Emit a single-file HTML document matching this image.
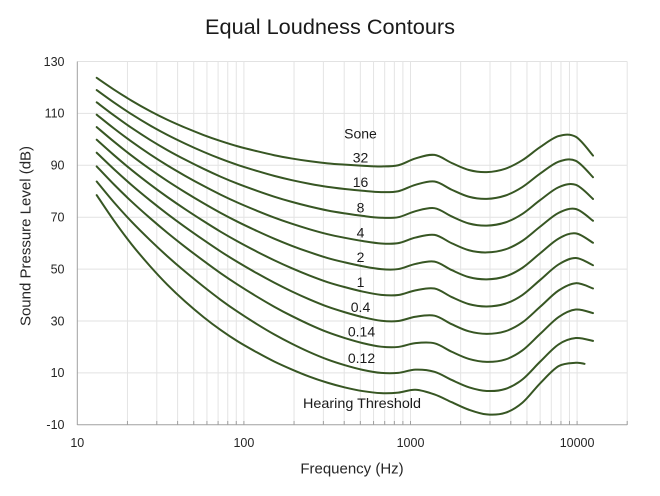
<!DOCTYPE html>
<html>
<head>
<meta charset="utf-8">
<style>
html,body{margin:0;padding:0;background:#fff;}
svg{display:block;}
text{font-family:"Liberation Sans",Arial,sans-serif;}
</style>
</head>
<body>
<svg id="chart" width="660" height="496" viewBox="0 0 660 496" xmlns="http://www.w3.org/2000/svg">
<rect x="0" y="0" width="660" height="496" fill="#ffffff"/>
<!-- title -->
<text x="330" y="34" text-anchor="middle" font-size="21.5" fill="#1a1a1a" textLength="250" lengthAdjust="spacingAndGlyphs">Equal Loudness Contours</text>

<!-- horizontal gridlines -->
<g stroke="#e2e2e2" stroke-width="1">
<line x1="77.3" y1="61.5" x2="627.2" y2="61.5"/>
<line x1="77.3" y1="113.4" x2="627.2" y2="113.4"/>
<line x1="77.3" y1="165.3" x2="627.2" y2="165.3"/>
<line x1="77.3" y1="217.2" x2="627.2" y2="217.2"/>
<line x1="77.3" y1="269.1" x2="627.2" y2="269.1"/>
<line x1="77.3" y1="321.0" x2="627.2" y2="321.0"/>
<line x1="77.3" y1="372.9" x2="627.2" y2="372.9"/>
</g>
<!-- vertical gridlines -->
<g stroke="#e4e4e4" stroke-width="1">
<line x1="127.45" y1="61.5" x2="127.45" y2="424.8"/>
<line x1="156.79" y1="61.5" x2="156.79" y2="424.8"/>
<line x1="177.6" y1="61.5" x2="177.6" y2="424.8"/>
<line x1="193.75" y1="61.5" x2="193.75" y2="424.8"/>
<line x1="206.94" y1="61.5" x2="206.94" y2="424.8"/>
<line x1="218.09" y1="61.5" x2="218.09" y2="424.8"/>
<line x1="227.75" y1="61.5" x2="227.75" y2="424.8"/>
<line x1="236.28" y1="61.5" x2="236.28" y2="424.8"/>
<line x1="243.9" y1="61.5" x2="243.9" y2="424.8"/>
<line x1="294.05" y1="61.5" x2="294.05" y2="424.8"/>
<line x1="323.39" y1="61.5" x2="323.39" y2="424.8"/>
<line x1="344.2" y1="61.5" x2="344.2" y2="424.8"/>
<line x1="360.35" y1="61.5" x2="360.35" y2="424.8"/>
<line x1="373.54" y1="61.5" x2="373.54" y2="424.8"/>
<line x1="384.69" y1="61.5" x2="384.69" y2="424.8"/>
<line x1="394.35" y1="61.5" x2="394.35" y2="424.8"/>
<line x1="402.88" y1="61.5" x2="402.88" y2="424.8"/>
<line x1="410.5" y1="61.5" x2="410.5" y2="424.8"/>
<line x1="460.65" y1="61.5" x2="460.65" y2="424.8"/>
<line x1="489.99" y1="61.5" x2="489.99" y2="424.8"/>
<line x1="510.8" y1="61.5" x2="510.8" y2="424.8"/>
<line x1="526.95" y1="61.5" x2="526.95" y2="424.8"/>
<line x1="540.14" y1="61.5" x2="540.14" y2="424.8"/>
<line x1="551.29" y1="61.5" x2="551.29" y2="424.8"/>
<line x1="560.95" y1="61.5" x2="560.95" y2="424.8"/>
<line x1="569.48" y1="61.5" x2="569.48" y2="424.8"/>
<line x1="577.1" y1="61.5" x2="577.1" y2="424.8"/>
<line x1="627.2" y1="61.5" x2="627.2" y2="424.8"/>
</g>
<!-- axes -->
<g stroke="#a0a0a0" stroke-width="1">
<line x1="77.3" y1="61.5" x2="77.3" y2="425"/>
<line x1="77.3" y1="424.8" x2="627.2" y2="424.8"/>
</g>
<!-- x ticks -->
<g stroke="#a0a0a0" stroke-width="1">
<line x1="127.45" y1="421" x2="127.45" y2="425"/>
<line x1="156.79" y1="421" x2="156.79" y2="425"/>
<line x1="177.6" y1="421" x2="177.6" y2="425"/>
<line x1="193.75" y1="421" x2="193.75" y2="425"/>
<line x1="206.94" y1="421" x2="206.94" y2="425"/>
<line x1="218.09" y1="421" x2="218.09" y2="425"/>
<line x1="227.75" y1="421" x2="227.75" y2="425"/>
<line x1="236.28" y1="421" x2="236.28" y2="425"/>
<line x1="243.9" y1="421" x2="243.9" y2="425"/>
<line x1="294.05" y1="421" x2="294.05" y2="425"/>
<line x1="323.39" y1="421" x2="323.39" y2="425"/>
<line x1="344.2" y1="421" x2="344.2" y2="425"/>
<line x1="360.35" y1="421" x2="360.35" y2="425"/>
<line x1="373.54" y1="421" x2="373.54" y2="425"/>
<line x1="384.69" y1="421" x2="384.69" y2="425"/>
<line x1="394.35" y1="421" x2="394.35" y2="425"/>
<line x1="402.88" y1="421" x2="402.88" y2="425"/>
<line x1="410.5" y1="421" x2="410.5" y2="425"/>
<line x1="460.65" y1="421" x2="460.65" y2="425"/>
<line x1="489.99" y1="421" x2="489.99" y2="425"/>
<line x1="510.8" y1="421" x2="510.8" y2="425"/>
<line x1="526.95" y1="421" x2="526.95" y2="425"/>
<line x1="540.14" y1="421" x2="540.14" y2="425"/>
<line x1="551.29" y1="421" x2="551.29" y2="425"/>
<line x1="560.95" y1="421" x2="560.95" y2="425"/>
<line x1="569.48" y1="421" x2="569.48" y2="425"/>
<line x1="577.1" y1="421" x2="577.1" y2="425"/>
<line x1="627.2" y1="421" x2="627.2" y2="425"/>
</g>

<!-- y tick labels -->
<g font-size="12.5" fill="#262626" text-anchor="end">
<text x="64.5" y="65.8">130</text>
<text x="64.5" y="117.7">110</text>
<text x="64.5" y="169.6">90</text>
<text x="64.5" y="221.5">70</text>
<text x="64.5" y="273.4">50</text>
<text x="64.5" y="325.3">30</text>
<text x="64.5" y="377.2">10</text>
<text x="64.5" y="429.1">-10</text>
</g>
<!-- x tick labels -->
<g font-size="12.5" fill="#262626" text-anchor="middle">
<text x="77.3" y="447">10</text>
<text x="243.9" y="447">100</text>
<text x="410.5" y="447">1000</text>
<text x="577.1" y="447">10000</text>
</g>
<!-- axis titles -->
<text x="352" y="473.5" text-anchor="middle" font-size="15" fill="#262626">Frequency (Hz)</text>
<text transform="translate(30.5,236) rotate(-90)" x="0" y="0" text-anchor="middle" font-size="15" fill="#262626">Sound Pressure Level (dB)</text>

<!-- curves -->
<g id="curves" fill="none" stroke="#375623" stroke-width="2" stroke-linejoin="round" stroke-linecap="round"></g>

<!-- curve labels -->
<g font-size="14" fill="#1a1a1a" text-anchor="middle">
<text x="360.5" y="138.3">Sone</text>
<text x="360.5" y="162.3">32</text>
<text x="360.5" y="187">16</text>
<text x="360.5" y="212.5">8</text>
<text x="360.5" y="237.5">4</text>
<text x="360.5" y="262">2</text>
<text x="360.5" y="286.8">1</text>
<text x="360.5" y="312">0.4</text>
<text x="361.5" y="336.3">0.14</text>
<text x="361.5" y="363">0.12</text>
<text x="362" y="408" textLength="118" lengthAdjust="spacingAndGlyphs">Hearing Threshold</text>
</g>
</svg>
<script>
(function(){
var F=[20,25,31.5,40,50,63,80,100,125,160,200,250,315,400,500,630,800,1000,1250,1600,2000,2500,3150,4000,5000,6300,8000,10000,12500];
var AF=[0.532,0.506,0.480,0.455,0.432,0.409,0.387,0.367,0.349,0.330,0.315,0.301,0.288,0.276,0.267,0.259,0.253,0.250,0.246,0.244,0.243,0.243,0.243,0.242,0.242,0.245,0.254,0.271,0.301];
var LU=[-31.6,-27.2,-23.0,-19.1,-15.9,-13.0,-10.3,-8.1,-6.2,-4.5,-3.1,-2.0,-1.1,-0.4,0.0,0.3,0.5,0.0,-2.7,-4.1,-1.0,1.7,2.5,1.2,-2.1,-7.1,-11.2,-10.7,-3.1];
var TF=[78.5,68.7,59.5,51.1,44.0,37.5,31.5,26.5,22.1,17.9,14.4,11.4,8.6,6.2,4.4,3.0,2.2,2.4,3.5,1.7,-1.3,-4.2,-6.0,-5.4,-1.5,6.0,12.6,13.9,12.3];
var A=-134.25,B=177.51;
function X(f){return A+B*Math.log10(f);}
function Y(d){return 424.8-(d+10)*2.595;}
function lp(Ln,i){
  var Af=4.47e-3*(Math.pow(10,0.025*Ln)-1.15)+Math.pow(0.4*Math.pow(10,(TF[i]+LU[i])/10-9),AF[i]);
  return 10/AF[i]*Math.log10(Af)-LU[i]+94;
}
function path(p){
  var n=p.length,s='M'+p[0][0].toFixed(2)+','+p[0][1].toFixed(2);
  for(var i=0;i<n-1;i++){
    var p0=p[Math.max(i-1,0)],p1=p[i],p2=p[i+1],p3=p[Math.min(i+2,n-1)];
    var c1x=p1[0]+(p2[0]-p0[0])/6,c1y=p1[1]+(p2[1]-p0[1])/6;
    var c2x=p2[0]-(p3[0]-p1[0])/6,c2y=p2[1]-(p3[1]-p1[1])/6;
    s+='C'+c1x.toFixed(2)+','+c1y.toFixed(2)+' '+c2x.toFixed(2)+','+c2y.toFixed(2)+' '+p2[0].toFixed(2)+','+p2[1].toFixed(2);
  }
  return s;
}
var g=document.getElementById('curves');
var NS='http://www.w3.org/2000/svg';
function add(d){var e=document.createElementNS(NS,'path');e.setAttribute('d',d);g.appendChild(e);}
var L=[90,80,70,60,50,40,30,20,10];
for(var k=0;k<L.length;k++){
  var pts=[];
  for(var i=0;i<F.length;i++){pts.push([X(F[i]),Y(lp(L[k],i))]);}
  add(path(pts));
}
var tp=[];
for(var i=0;i<28;i++){tp.push([X(F[i]),Y(TF[i])]);}
tp.push([X(11200),Y(13.5)]);
add(path(tp));
})();
</script>
</body>
</html>
